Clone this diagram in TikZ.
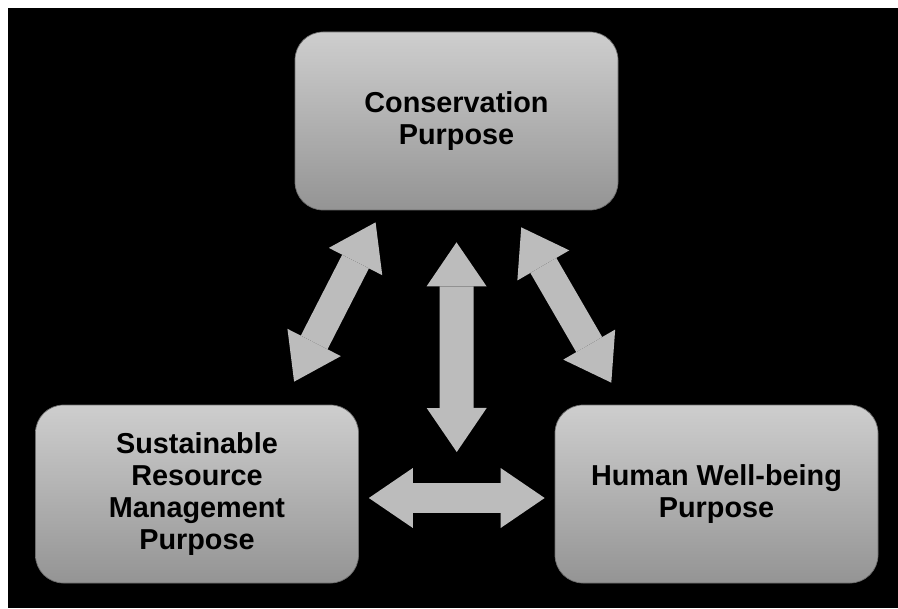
\documentclass[tikz,border=0pt]{standalone}
\usepackage{fontspec}
\setmainfont{Liberation Sans}
\usetikzlibrary{arrows.meta,calc}

\definecolor{boxtop}{RGB}{206,206,206}
\definecolor{boxbottom}{RGB}{148,148,148}
\definecolor{boxedge}{RGB}{110,110,110}
\definecolor{arrowgray}{RGB}{188,188,188}

\begin{document}
\begin{tikzpicture}[
  purposebox/.style={draw=boxedge, line width=0.5pt, rectangle, rounded corners=0.7cm,
    minimum width=8.075cm, minimum height=4.45cm, text centered, align=center,
    top color=boxtop, bottom color=boxbottom,
    font=\fontsize{20.5}{22.8}\selectfont\bfseries},
  dblarrow/.style={draw=arrowgray, line width=0.75cm,
    {Triangle[length=1.1cm, width=1.5cm, line width=0pt]}-{Triangle[length=1.1cm, width=1.5cm, line width=0pt]}}
]

\fill[white] (0,0) rectangle (22.45,15.2);
\fill[black] (0.2,0) rectangle (22.45,15.0);
\useasboundingbox (0,0) rectangle (22.45,15.2);

\node (cons) [purposebox] at (11.4125,12.175) {Conservation\\Purpose};

\node (sust) [purposebox, below of=cons, node distance=9.325cm, xshift=-6.4875cm] {Sustainable\\Resource\\Management\\Purpose};
\node (human) [purposebox, right of=sust, node distance=12.9875cm] {Human Well-being\\Purpose};

\coordinate (hub) at ($(sust.east)!0.5!(human.west)$);

\draw[dblarrow] ($(sust.north)!0.6!(sust.north east) + (0,0.575)$) -- ($(cons.south west)!0.5!(cons.south) + (0,-0.3)$);
\draw[dblarrow] ($(cons.south)!0.4!(cons.south east) + (0,-0.425)$) -- ($(human.north west)!0.35!(human.north) + (0,0.55)$);
\draw[dblarrow, line width=0.85cm] ([yshift=-0.8cm]cons.south) -- ([yshift=1.05cm]hub);
\draw[dblarrow] ([xshift=0.25cm,yshift=-0.1cm]sust.east) -- ([xshift=-0.25cm,yshift=-0.1cm]human.west);

\end{tikzpicture}
\end{document}
